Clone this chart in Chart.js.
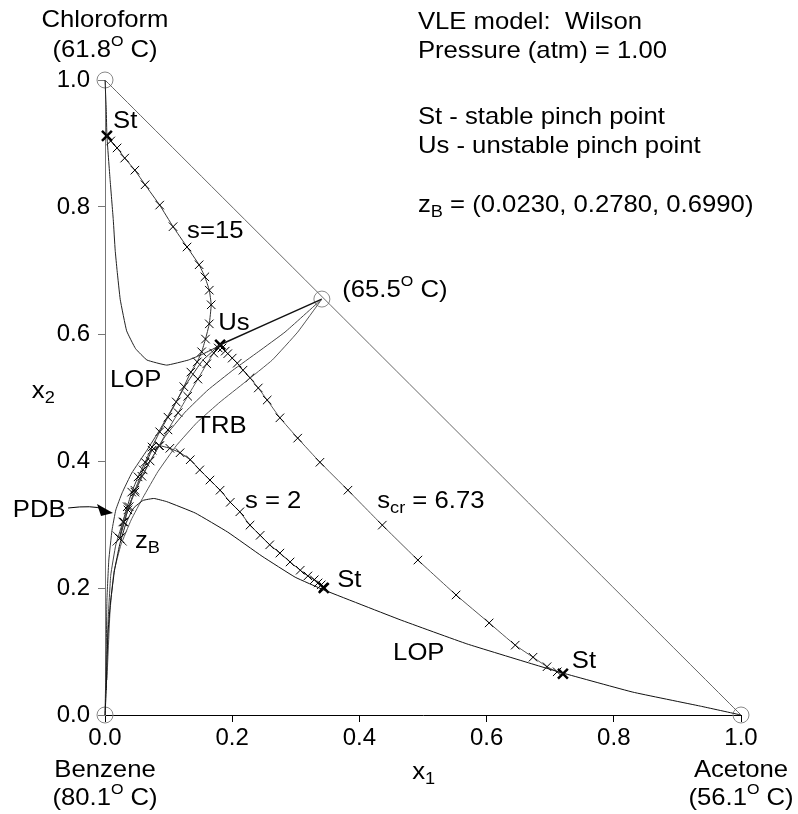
<!DOCTYPE html>
<html>
<head>
<meta charset="utf-8">
<script src="https://cdn.jsdelivr.net/npm/chart.js@4.4.0/dist/chart.umd.min.js"></script>
<style>
  html, body { margin: 0; padding: 0; background: #fff; }
</style>
</head>
<body>
<canvas id="chart" width="798" height="814"></canvas>
<script>
// axis ticks (mole fractions)
const tickValues = [0, 0.2, 0.4, 0.6, 0.8, 1.0];

// pure components + azeotrope (x1, x2)
const vertices = [[0, 0], [0, 1], [1, 0], [0.341, 0.655]];
const hypotenuse = [[0, 1], [1, 0]];

// leaves of pinch points
const lopUpper = [[0, 1.0], [0.002, 0.953], [0.003, 0.912], [0.008, 0.843], [0.013, 0.780], [0.016, 0.732],
  [0.019, 0.700], [0.024, 0.654], [0.034, 0.605], [0.048, 0.577], [0.066, 0.559], [0.097, 0.551],
  [0.131, 0.559], [0.153, 0.568], [0.173, 0.578], [0.181, 0.583]];
const lopLower = [[0, 0], [0.002, 0.039], [0.003, 0.087], [0.005, 0.134], [0.009, 0.181], [0.015, 0.228],
  [0.023, 0.268], [0.033, 0.302], [0.045, 0.326], [0.060, 0.338], [0.077, 0.341], [0.097, 0.336],
  [0.142, 0.318], [0.193, 0.288], [0.247, 0.250], [0.299, 0.217], [0.344, 0.197], [0.464, 0.150],
  [0.569, 0.112], [0.673, 0.080], [0.720, 0.066], [0.830, 0.036], [0.936, 0.014], [1, 0]];

// pinch distillation boundary
const pdb = [[0, 0], [0.002, 0.102], [0.003, 0.181], [0.006, 0.244], [0.011, 0.291], [0.017, 0.323],
  [0.027, 0.350], [0.042, 0.381], [0.066, 0.417], [0.086, 0.449], [0.107, 0.485], [0.129, 0.523],
  [0.154, 0.559], [0.181, 0.583]];

// total reflux boundaries
const trbA = [[0.002, 0.039], [0.005, 0.150], [0.009, 0.220], [0.017, 0.268], [0.030, 0.310], [0.046, 0.350],
  [0.068, 0.394], [0.094, 0.438], [0.126, 0.477], [0.162, 0.512], [0.201, 0.543], [0.241, 0.572],
  [0.283, 0.603], [0.341, 0.655]];
const trbB = [[0.003, 0.055], [0.008, 0.165], [0.014, 0.225], [0.025, 0.268], [0.041, 0.307], [0.060, 0.343],
  [0.083, 0.383], [0.112, 0.424], [0.145, 0.461], [0.181, 0.493], [0.220, 0.524], [0.263, 0.559],
  [0.303, 0.603], [0.341, 0.655]];
const usAzeo = [[0.181, 0.583], [0.341, 0.655]];

// stripping profiles
const profS15 = [[0.023, 0.278], [0.028, 0.304], [0.035, 0.328], [0.042, 0.351], [0.052, 0.375], [0.063, 0.398],
  [0.074, 0.422], [0.086, 0.446], [0.099, 0.469], [0.112, 0.493], [0.124, 0.517], [0.135, 0.540],
  [0.145, 0.556], [0.152, 0.572], [0.158, 0.592], [0.164, 0.616], [0.167, 0.646], [0.164, 0.669],
  [0.157, 0.690], [0.148, 0.709], [0.129, 0.737], [0.107, 0.769], [0.086, 0.803], [0.063, 0.835],
  [0.047, 0.858], [0.031, 0.877], [0.019, 0.893], [0.009, 0.904], [0.003, 0.912]];
const profS2 = [[0.023, 0.278], [0.036, 0.323], [0.047, 0.354], [0.060, 0.386], [0.074, 0.417], [0.086, 0.424],
  [0.102, 0.420], [0.118, 0.413], [0.134, 0.402], [0.149, 0.386], [0.165, 0.370], [0.181, 0.354],
  [0.197, 0.335], [0.212, 0.320], [0.228, 0.299], [0.244, 0.283], [0.259, 0.268], [0.275, 0.255],
  [0.291, 0.241], [0.307, 0.228], [0.319, 0.219], [0.329, 0.213], [0.335, 0.208], [0.340, 0.205],
  [0.343, 0.202], [0.344, 0.200]];
const profScr = [[0.023, 0.278], [0.030, 0.304], [0.038, 0.328], [0.047, 0.351], [0.058, 0.376], [0.071, 0.400],
  [0.085, 0.424], [0.099, 0.449], [0.115, 0.476], [0.130, 0.502], [0.146, 0.529], [0.160, 0.553],
  [0.171, 0.570], [0.178, 0.578], [0.181, 0.583], [0.184, 0.578], [0.189, 0.573], [0.193, 0.569],
  [0.200, 0.562], [0.208, 0.554], [0.217, 0.543], [0.228, 0.531], [0.241, 0.515], [0.255, 0.496],
  [0.275, 0.468], [0.303, 0.436], [0.338, 0.398], [0.382, 0.354], [0.436, 0.299], [0.492, 0.244],
  [0.552, 0.189], [0.604, 0.145], [0.645, 0.110], [0.673, 0.091], [0.695, 0.076], [0.711, 0.068],
  [0.720, 0.065]];

const pinchSt = [[0.003, 0.912], [0.344, 0.200], [0.720, 0.065]];
const pinchUs = [[0.181, 0.583]];
const feedZB = [[0.023, 0.278]];

const FONT = 'Liberation Sans, Arial, Helvetica, sans-serif';
const pts = arr => arr.map(p => ({ x: p[0], y: p[1] }));

function curve(data, color, width) {
  return { data: pts(data), showLine: true, borderColor: color, borderWidth: width || 1,
    pointRadius: 0, tension: 0.1, clip: false };
}
function profile(data, color) {
  return { data: pts(data), showLine: true, borderColor: color, borderWidth: 1, tension: 0.1, clip: false,
    pointStyle: 'crossRot', pointRadius: 6, pointBorderColor: '#000', pointBorderWidth: 1 };
}
function markers(data, style, r, color, bw) {
  return { data: pts(data), showLine: false, pointStyle: style, pointRadius: r,
    pointBorderColor: color, pointBackgroundColor: 'rgba(0,0,0,0)', pointBorderWidth: bw, clip: false };
}

// text labels placed in mole-fraction coordinates
const labels = [
  { t: 'Chloroform', x: 0, y: 1.0835, a: 'center' },
  { t: '(61.8^{O} C)', x: 0, y: 1.036, a: 'center' },
  { t: 'Benzene', x: 0, y: -0.0976, a: 'center' },
  { t: '(80.1^{O} C)', x: 0, y: -0.1417, a: 'center' },
  { t: 'Acetone', x: 1, y: -0.0976, a: 'center' },
  { t: '(56.1^{O} C)', x: 1, y: -0.1417, a: 'center' },
  { t: '(65.5^{O} C)', x: 0.373, y: 0.658 },
  { t: 'St', x: 0.0126, y: 0.924 },
  { t: 's=15', x: 0.129, y: 0.751 },
  { t: 'Us', x: 0.178, y: 0.606 },
  { t: 'LOP', x: 0.008, y: 0.517 },
  { t: 'TRB', x: 0.142, y: 0.444 },
  { t: 'PDB', x: -0.145, y: 0.312 },
  { t: 's = 2', x: 0.220, y: 0.326 },
  { t: 's_{cr} = 6.73', x: 0.428, y: 0.326 },
  { t: 'z_{B}', x: 0.047, y: 0.263 },
  { t: 'St', x: 0.365, y: 0.2016 },
  { t: 'LOP', x: 0.453, y: 0.0866 },
  { t: 'St', x: 0.734, y: 0.074 },
  { t: 'x_{1}', x: 0.483, y: -0.1008 },
  { t: 'x_{2}', x: -0.115, y: 0.499 },
  { t: 'VLE model:  Wilson', x: 0.492, y: 1.0803 },
  { t: 'Pressure (atm) = 1.00', x: 0.492, y: 1.0346 },
  { t: 'St - stable pinch point', x: 0.492, y: 0.9307 },
  { t: 'Us - unstable pinch point', x: 0.492, y: 0.885 },
  { t: 'z_{B} = (0.0230, 0.2780, 0.6990)', x: 0.492, y: 0.792 }
];

const SX = 1.07;
function parseRich(s) {
  const parts = [];
  const re = /(_|\^)\{([^}]*)\}/g;
  let last = 0, m;
  while ((m = re.exec(s))) {
    if (m.index > last) parts.push({ t: s.slice(last, m.index), k: 'n' });
    parts.push({ t: m[2], k: m[1] === '_' ? 'sub' : 'sup' });
    last = re.lastIndex;
  }
  if (last < s.length) parts.push({ t: s.slice(last), k: 'n' });
  return parts;
}
const sizes = { n: 24, sub: 17, sup: 15 };
const shifts = { n: 0, sub: 5, sup: -11 };

function drawRich(ctx, text, px, py, align) {
  const parts = parseRich(text);
  let w = 0;
  parts.forEach(p => { ctx.font = sizes[p.k] + 'px ' + FONT; p.w = ctx.measureText(p.t).width * SX; w += p.w; });
  let cx = align === 'center' ? px - w / 2 : px;
  parts.forEach(p => {
    ctx.save();
    ctx.font = sizes[p.k] + 'px ' + FONT;
    ctx.translate(cx, py + shifts[p.k]);
    ctx.scale(SX, 1);
    ctx.fillText(p.t, 0, 0);
    ctx.restore();
    cx += p.w;
  });
}

const annotations = {
  id: 'annotations',
  afterDraw(chart) {
    const { ctx, scales: { x, y } } = chart;
    ctx.save();
    ctx.fillStyle = '#000';
    ctx.textBaseline = 'alphabetic';
    ctx.textAlign = 'left';
    labels.forEach(l => drawRich(ctx, l.t, x.getPixelForValue(l.x), y.getPixelForValue(l.y), l.a));

    // PDB arrow
    const x0 = x.getPixelForValue(-0.058), y0 = y.getPixelForValue(0.326);
    const x1 = x.getPixelForValue(0.0126), y1 = y.getPixelForValue(0.318);
    ctx.strokeStyle = '#000';
    ctx.lineWidth = 1;
    ctx.beginPath();
    ctx.moveTo(x0, y0);
    ctx.quadraticCurveTo(x0 + 25, y0 - 3, x1 - 10, y1 - 4);
    ctx.stroke();
    ctx.beginPath();
    ctx.moveTo(x1, y1);
    ctx.lineTo(x1 - 16, y1 - 9);
    ctx.lineTo(x1 - 12, y1 + 3);
    ctx.closePath();
    ctx.fill();
    ctx.restore();
  }
};

const tickCfg = { font: { family: FONT, size: 24 }, color: '#000', callback: v => v.toFixed(1),
  autoSkip: false, maxRotation: 0 };

new Chart(document.getElementById('chart'), {
  type: 'scatter',
  data: {
    datasets: [
      curve(hypotenuse, '#666'),
      curve(lopUpper, '#222'),
      curve(lopLower, '#111'),
      curve(pdb, '#333'),
      curve(trbA, '#444'),
      curve(trbB, '#555'),
      curve(usAzeo, '#111', 1.5),
      profile(profS15, '#333'),
      profile(profS2, '#333'),
      profile(profScr, '#555'),
      markers(pinchSt, 'crossRot', 7, '#000', 2.5),
      markers(pinchUs, 'crossRot', 7, '#000', 2.5),
      markers(feedZB, 'crossRot', 10, '#333', 1),
      markers(vertices, 'circle', 8, '#888', 1)
    ]
  },
  options: {
    responsive: false,
    animation: false,
    events: [],
    layout: { padding: { left: 0, right: 57, top: 80, bottom: 0 } },
    plugins: { legend: { display: false }, tooltip: { enabled: false } },
    scales: {
      x: {
        type: 'linear', min: 0, max: 1,
        afterBuildTicks: s => { s.ticks = tickValues.map(v => ({ value: v })); },
        afterFit: s => { s.height = 99; },
        ticks: Object.assign({ padding: 2 }, tickCfg),
        grid: { drawOnChartArea: false, tickLength: 7, color: '#000' },
        border: { color: '#000', width: 1 }
      },
      y: {
        type: 'linear', min: 0, max: 1,
        afterBuildTicks: s => { s.ticks = tickValues.map(v => ({ value: v })); },
        afterFit: s => { s.width = 105; },
        ticks: Object.assign({ padding: 8 }, tickCfg),
        grid: { drawOnChartArea: false, tickLength: 7, color: '#777' },
        border: { color: '#777', width: 1 }
      }
    }
  },
  plugins: [annotations]
});
</script>
</body>
</html>
